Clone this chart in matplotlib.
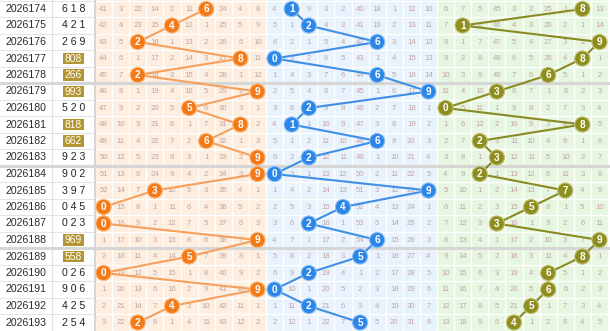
import matplotlib
matplotlib.use("Agg")
import matplotlib.pyplot as plt
from matplotlib.patches import Rectangle, Circle

periods = [2026174 + i for i in range(20)]
draws = ["618", "421", "269", "808", "266", "993", "520", "818", "662", "923",
         "902", "397", "045", "023", "969", "558", "026", "906", "425", "254"]

# miss counts per position (0 where the digit was drawn)
miss_hundreds = [
    [41, 3, 22, 14, 2, 11, 0, 24, 4, 8],
    [42, 4, 23, 15, 0, 12, 1, 25, 5, 9],
    [43, 5, 0, 16, 1, 13, 2, 26, 6, 10],
    [44, 6, 1, 17, 2, 14, 3, 27, 0, 11],
    [45, 7, 0, 18, 3, 15, 4, 28, 1, 12],
    [46, 8, 1, 19, 4, 16, 5, 29, 2, 0],
    [47, 9, 2, 20, 5, 0, 6, 30, 3, 1],
    [48, 10, 3, 21, 6, 1, 7, 31, 0, 2],
    [49, 11, 4, 22, 7, 2, 0, 32, 1, 3],
    [50, 12, 5, 23, 8, 3, 1, 33, 2, 0],
    [51, 13, 6, 24, 9, 4, 2, 34, 3, 0],
    [52, 14, 7, 0, 10, 5, 3, 35, 4, 1],
    [0, 15, 8, 1, 11, 6, 4, 36, 5, 2],
    [0, 16, 9, 2, 12, 7, 5, 37, 6, 3],
    [1, 17, 10, 3, 13, 8, 6, 38, 7, 0],
    [2, 18, 11, 4, 14, 0, 7, 39, 8, 1],
    [0, 19, 12, 5, 15, 1, 8, 40, 9, 2],
    [1, 20, 13, 6, 16, 2, 9, 41, 10, 0],
    [2, 21, 14, 7, 0, 3, 10, 42, 11, 1],
    [3, 22, 0, 8, 1, 4, 11, 43, 12, 2],
]
miss_tens = [
    [4, 0, 9, 3, 2, 40, 18, 1, 12, 10],
    [5, 1, 0, 4, 3, 41, 19, 2, 13, 11],
    [6, 2, 1, 5, 4, 42, 0, 3, 14, 12],
    [0, 3, 2, 6, 5, 43, 1, 4, 15, 13],
    [1, 4, 3, 7, 6, 44, 0, 5, 16, 14],
    [2, 5, 4, 8, 7, 45, 1, 6, 17, 0],
    [3, 6, 0, 9, 8, 46, 2, 7, 18, 1],
    [4, 0, 1, 10, 9, 47, 3, 8, 19, 2],
    [5, 1, 2, 11, 10, 48, 0, 9, 20, 3],
    [6, 2, 0, 12, 11, 49, 1, 10, 21, 4],
    [0, 3, 1, 13, 12, 50, 2, 11, 22, 5],
    [1, 4, 2, 14, 13, 51, 3, 12, 23, 0],
    [2, 5, 3, 15, 0, 52, 4, 13, 24, 1],
    [3, 6, 0, 16, 1, 53, 5, 14, 25, 2],
    [4, 7, 1, 17, 2, 54, 0, 15, 26, 3],
    [5, 8, 2, 18, 3, 0, 1, 16, 27, 4],
    [6, 9, 0, 19, 4, 1, 2, 17, 28, 5],
    [0, 10, 1, 20, 5, 2, 3, 18, 29, 6],
    [1, 11, 0, 21, 6, 3, 4, 19, 30, 7],
    [2, 12, 1, 22, 7, 0, 5, 20, 31, 8],
]
miss_units = [
    [6, 7, 5, 45, 3, 2, 25, 1, 0, 13],
    [7, 0, 6, 46, 4, 3, 26, 2, 1, 14],
    [8, 1, 7, 47, 5, 4, 27, 3, 2, 0],
    [9, 2, 8, 48, 6, 5, 28, 4, 0, 1],
    [10, 3, 9, 49, 7, 6, 0, 5, 1, 2],
    [11, 4, 10, 0, 8, 7, 1, 6, 2, 3],
    [0, 5, 11, 1, 9, 8, 2, 7, 3, 4],
    [1, 6, 12, 2, 10, 9, 3, 8, 0, 5],
    [2, 7, 0, 3, 11, 10, 4, 9, 1, 6],
    [3, 8, 1, 0, 12, 11, 5, 10, 2, 7],
    [4, 9, 0, 1, 13, 12, 6, 11, 3, 8],
    [5, 10, 1, 2, 14, 13, 7, 0, 4, 9],
    [6, 11, 2, 3, 15, 0, 8, 1, 5, 10],
    [7, 12, 3, 0, 16, 1, 9, 2, 6, 11],
    [8, 13, 4, 1, 17, 2, 10, 3, 7, 0],
    [9, 14, 5, 2, 18, 3, 11, 4, 0, 1],
    [10, 15, 6, 3, 19, 4, 0, 5, 1, 2],
    [11, 16, 7, 4, 20, 5, 0, 6, 2, 3],
    [12, 17, 8, 5, 21, 0, 1, 7, 3, 4],
    [13, 18, 9, 6, 0, 1, 2, 8, 4, 5],
]

W, H = 610, 331
fig = plt.figure(figsize=(W / 100, H / 100), dpi=100)
ax = fig.add_axes([0, 0, 1, 1])
ax.set_xlim(0, W)
ax.set_ylim(H, 0)
ax.axis("off")

FONT = "Liberation Sans"
ROW_H = 16.5
ROW0 = 0.75
X0 = 95.0
CW = 17.1
n = len(periods)

def row_top(i):
    return ROW0 + i * ROW_H

def row_c(i):
    return row_top(i) + ROW_H / 2

def col_c(k):
    return X0 + (k + 0.5) * CW

sections = [
    (miss_hundreds, 0, "#fdeedf", "#f37a17", "#f6a060", "#fbb77e"),
    (miss_tens, 1, "#e9f3fd", "#2b86e8", "#3f8fe6", "#8cc0f4"),
    (miss_units, 2, "#e6f6e1", "#8e8e1f", "#8a8a22", "#c2c27a"),
]

# backgrounds
ax.add_patch(Rectangle((0, 0), X0, H, facecolor="white", edgecolor="none", zorder=0))
for s, (_, pos, bg, *_r) in enumerate(sections):
    ax.add_patch(Rectangle((X0 + s * 10 * CW, 0), 10 * CW, H, facecolor=bg,
                           edgecolor="none", zorder=0))

# grid lines
for i in range(n + 1):
    y = row_top(i)
    ax.plot([0, X0], [y, y], color="#e4e4e4", lw=0.7, zorder=1)
    ax.plot([X0, W], [y, y], color="white", lw=0.9, zorder=1)
for k in range(31):
    x = X0 + k * CW
    ax.plot([x, x], [0, H], color="white", lw=0.9, zorder=1)
ax.plot([52, 52], [0, H], color="#e2e2e2", lw=0.9, zorder=1)
ax.plot([X0, X0], [0, H], color="#cfcfcf", lw=1.2, zorder=1)
for b in (5, 10, 15):
    y = row_top(b)
    ax.plot([0, W], [y, y], color="#d6d6d6", lw=2.2, zorder=1.5)

# left columns
for i in range(n):
    y = row_c(i)
    ax.text(26, y, str(periods[i]), ha="center", va="center", fontsize=7.6,
            family=FONT, color="#2a2a2a", zorder=3)
    d = draws[i]
    if len(set(d)) < 3:
        ax.add_patch(Rectangle((62.5, y - 5.8), 21, 11.6, facecolor="#b39632",
                               edgecolor="none", zorder=2))
        ax.text(73, y + 0.3, d, ha="center", va="center", fontsize=7.4,
                family=FONT, color="white", zorder=3)
    else:
        ax.text(73.5, y, " ".join(d), ha="center", va="center", fontsize=7.6,
                family=FONT, color="#222222", zorder=3)

# cells, lines, balls
for s, (miss, pos, bg, ball, line, edge) in enumerate(sections):
    xs, ys = [], []
    for i in range(n):
        dig = int(draws[i][pos])
        y = row_c(i)
        for k in range(10):
            if k == dig:
                continue
            ax.text(col_c(s * 10 + k), y + 0.3, str(miss[i][k]), ha="center",
                    va="center", fontsize=5.6, family=FONT, color="#c4a6a6", zorder=2)
        xs.append(col_c(s * 10 + dig))
        ys.append(y)
    ax.plot(xs, ys, color=line, lw=1.5, zorder=4, solid_capstyle="round")
    for i in range(n):
        dig = int(draws[i][pos])
        ax.add_patch(Circle((xs[i], ys[i]), 7.6, facecolor=ball, edgecolor=edge,
                            lw=0.8, zorder=5))
        ax.text(xs[i], ys[i] + 0.4, str(dig), ha="center", va="center", fontsize=7.2,
                family=FONT, fontweight="bold", color="white", zorder=6)

fig.savefig("out.png", dpi=100)
